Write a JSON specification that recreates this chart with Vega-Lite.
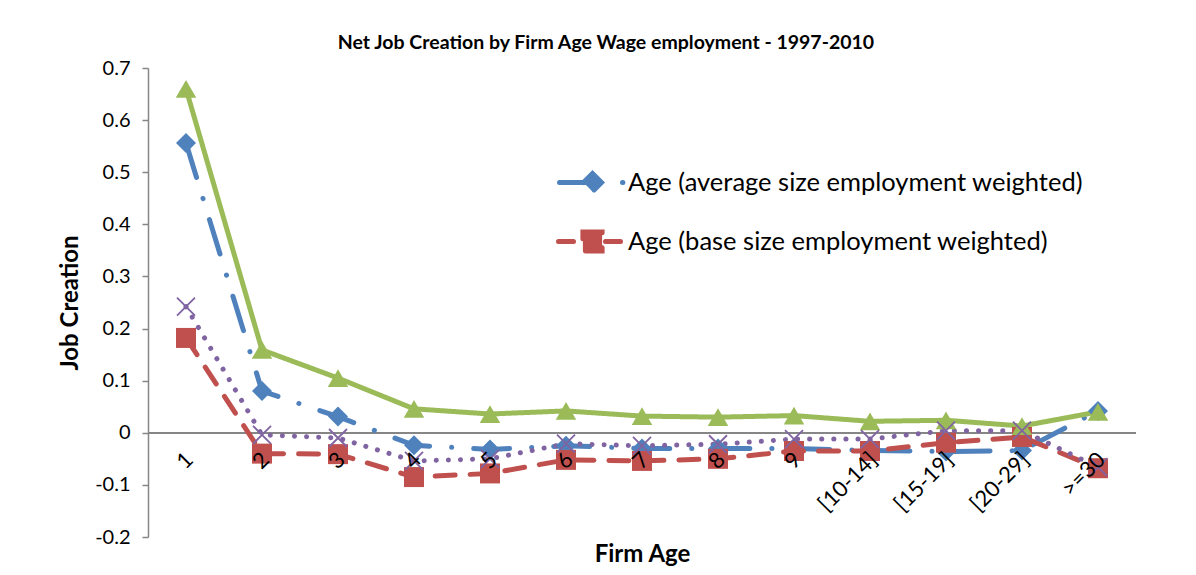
{
  "$schema": "https://vega.github.io/schema/vega-lite/v6.json",
  "width": 988,
  "height": 469,
  "autosize": "none",
  "padding": {"left": 148, "top": 68, "right": 60, "bottom": 38},
  "background": "white",
  "config": {
    "font": "Lato",
    "view": {"stroke": null},
    "axis": {"grid": false, "labelColor": "black", "titleColor": "black", "labelFont": "Lato", "titleFont": "Lato"}
  },
  "title": {
    "text": "Net Job Creation by Firm Age Wage employment - 1997-2010",
    "fontSize": 19.5,
    "fontWeight": "bold",
    "font": "Lato",
    "color": "black",
    "anchor": "middle",
    "dx": -36,
    "offset": 5
  },
  "data": {
    "values": [
      {"age": "1", "series": "Age (average size employment weighted)", "value": 0.556},
      {"age": "2", "series": "Age (average size employment weighted)", "value": 0.08},
      {"age": "3", "series": "Age (average size employment weighted)", "value": 0.031},
      {"age": "4", "series": "Age (average size employment weighted)", "value": -0.024},
      {"age": "5", "series": "Age (average size employment weighted)", "value": -0.032},
      {"age": "6", "series": "Age (average size employment weighted)", "value": -0.025},
      {"age": "7", "series": "Age (average size employment weighted)", "value": -0.03},
      {"age": "8", "series": "Age (average size employment weighted)", "value": -0.03},
      {"age": "9", "series": "Age (average size employment weighted)", "value": -0.03},
      {"age": "[10-14]", "series": "Age (average size employment weighted)", "value": -0.034},
      {"age": "[15-19]", "series": "Age (average size employment weighted)", "value": -0.036},
      {"age": "[20-29]", "series": "Age (average size employment weighted)", "value": -0.034},
      {"age": ">=30", "series": "Age (average size employment weighted)", "value": 0.042},
      {"age": "1", "series": "Age (base size employment weighted)", "value": 0.182},
      {"age": "2", "series": "Age (base size employment weighted)", "value": -0.04},
      {"age": "3", "series": "Age (base size employment weighted)", "value": -0.041},
      {"age": "4", "series": "Age (base size employment weighted)", "value": -0.085},
      {"age": "5", "series": "Age (base size employment weighted)", "value": -0.078},
      {"age": "6", "series": "Age (base size employment weighted)", "value": -0.052},
      {"age": "7", "series": "Age (base size employment weighted)", "value": -0.054},
      {"age": "8", "series": "Age (base size employment weighted)", "value": -0.05},
      {"age": "9", "series": "Age (base size employment weighted)", "value": -0.035},
      {"age": "[10-14]", "series": "Age (base size employment weighted)", "value": -0.035},
      {"age": "[15-19]", "series": "Age (base size employment weighted)", "value": -0.019},
      {"age": "[20-29]", "series": "Age (base size employment weighted)", "value": -0.008},
      {"age": ">=30", "series": "Age (base size employment weighted)", "value": -0.068},
      {"age": "1", "series": "Age (firm count)", "value": 0.66},
      {"age": "2", "series": "Age (firm count)", "value": 0.159},
      {"age": "3", "series": "Age (firm count)", "value": 0.105},
      {"age": "4", "series": "Age (firm count)", "value": 0.046},
      {"age": "5", "series": "Age (firm count)", "value": 0.036},
      {"age": "6", "series": "Age (firm count)", "value": 0.042},
      {"age": "7", "series": "Age (firm count)", "value": 0.032},
      {"age": "8", "series": "Age (firm count)", "value": 0.03},
      {"age": "9", "series": "Age (firm count)", "value": 0.033},
      {"age": "[10-14]", "series": "Age (firm count)", "value": 0.022},
      {"age": "[15-19]", "series": "Age (firm count)", "value": 0.024},
      {"age": "[20-29]", "series": "Age (firm count)", "value": 0.013},
      {"age": ">=30", "series": "Age (firm count)", "value": 0.04},
      {"age": "1", "series": "Age (unweighted)", "value": 0.242},
      {"age": "2", "series": "Age (unweighted)", "value": -0.004},
      {"age": "3", "series": "Age (unweighted)", "value": -0.01},
      {"age": "4", "series": "Age (unweighted)", "value": -0.054},
      {"age": "5", "series": "Age (unweighted)", "value": -0.05},
      {"age": "6", "series": "Age (unweighted)", "value": -0.021},
      {"age": "7", "series": "Age (unweighted)", "value": -0.025},
      {"age": "8", "series": "Age (unweighted)", "value": -0.022},
      {"age": "9", "series": "Age (unweighted)", "value": -0.012},
      {"age": "[10-14]", "series": "Age (unweighted)", "value": -0.012},
      {"age": "[15-19]", "series": "Age (unweighted)", "value": 0.004},
      {"age": "[20-29]", "series": "Age (unweighted)", "value": 0.004},
      {"age": ">=30", "series": "Age (unweighted)", "value": -0.066}
    ]
  },
  "encoding": {
    "x": {
      "field": "age",
      "type": "ordinal",
      "sort": ["1", "2", "3", "4", "5", "6", "7", "8", "9", "[10-14]", "[15-19]", "[20-29]", ">=30"],
      "scale": {"padding": 0.5},
      "axis": {
        "title": "Firm Age",
        "titleFontSize": 24,
        "titleFontWeight": "bold",
        "titleY": 122,
        "titleBaseline": "middle",
        "offset": -104.2,
        "domain": false,
        "ticks": false,
        "labelAngle": -45,
        "labelFontSize": 22,
        "labelPadding": 16,
        "labelOffset": -4,
        "labelOverlap": false,
        "labelLimit": 400,
        "labelBound": false,
        "zindex": 2
      }
    },
    "y": {
      "field": "value",
      "type": "quantitative",
      "scale": {"domain": [-0.2, 0.7], "nice": false, "zero": false},
      "axis": {
        "title": "Job Creation",
        "titleFontSize": 24,
        "titleFontWeight": "bold",
        "titlePadding": 12,
        "values": [-0.2, -0.1, 0, 0.1, 0.2, 0.3, 0.4, 0.5, 0.6, 0.7],
        "labelExpr": "replace(format(datum.value, '~g'), '\u2212', '-')",
        "labelFontSize": 20,
        "labelPadding": 12,
        "domainColor": "#868686",
        "domainWidth": 1.5,
        "tickColor": "#868686",
        "tickWidth": 1.5,
        "tickSize": 6
      }
    }
  },
  "layer": [
    {
      "mark": {"type": "rule", "color": "#868686", "strokeWidth": 1.5},
      "encoding": {"y": {"datum": 0}, "x": null}
    },
    {
      "mark": {"type": "line", "strokeWidth": 5, "strokeCap": "round", "strokeJoin": "round"},
      "encoding": {
        "color": {
          "field": "series",
          "type": "nominal",
          "scale": {
            "domain": ["Age (average size employment weighted)", "Age (base size employment weighted)", "Age (firm count)", "Age (unweighted)"],
            "range": ["#4F81BD", "#C0504D", "#9BBB59", "#8064A2"]
          },
          "legend": {
            "title": null,
            "orient": "none",
            "legendX": 422,
            "legendY": 92,
            "padding": 0,
            "values": ["Age (average size employment weighted)", "Age (base size employment weighted)"],
            "symbolSize": 1600,
            "symbolStrokeWidth": 5,
            "labelFontSize": 25.5,
            "labelFont": "Lato",
            "labelColor": "black",
            "labelOffset": 13,
            "labelLimit": 700,
            "rowPadding": 17,
            "encode": {
              "symbols": {
                "update": {
                  "shape": {"signal": "datum.value === 'Age (average size employment weighted)' ? 'M-1.65,0L0.6,0M-0.45,0L0,-0.45L0.45,0L0,0.45ZM1.5,0L1.52,0' : 'M-1.7,0L-0.95,0M-0.48,-0.48L0.48,-0.48L0.48,0.48L-0.48,0.48ZM0.65,0L1.4,0'"},
                  "fill": {"signal": "datum.value === 'Age (average size employment weighted)' ? '#4F81BD' : '#C0504D'"},
                  "stroke": {"signal": "datum.value === 'Age (average size employment weighted)' ? '#4F81BD' : '#C0504D'"},
                  "strokeWidth": {"value": 5},
                  "strokeCap": {"value": "round"},
                  "strokeDash": {"value": []},
                  "size": {"value": 1600},
                  "opacity": {"value": 1}
                }
              }
            }
          }
        },
        "strokeDash": {
          "field": "series",
          "type": "nominal",
          "scale": {
            "domain": ["Age (average size employment weighted)", "Age (base size employment weighted)", "Age (firm count)", "Age (unweighted)"],
            "range": [[36, 22, 0.1, 22], [20, 15], [1, 0], [0.1, 12]]
          },
          "legend": null
        }
      }
    },
    {
      "transform": [{"filter": "datum.series === 'Age (average size employment weighted)'"}],
      "mark": {"type": "point", "shape": "diamond", "filled": true, "size": 400, "color": "#4F81BD", "opacity": 1},
      "encoding": {}
    },
    {
      "transform": [{"filter": "datum.series === 'Age (base size employment weighted)'"}],
      "mark": {"type": "point", "shape": "square", "filled": true, "size": 400, "color": "#C0504D", "opacity": 1},
      "encoding": {}
    },
    {
      "transform": [{"filter": "datum.series === 'Age (firm count)'"}],
      "mark": {"type": "point", "shape": "triangle-up", "filled": true, "size": 420, "color": "#9BBB59", "opacity": 1},
      "encoding": {}
    },
    {
      "transform": [{"filter": "datum.series === 'Age (unweighted)'"}],
      "mark": {"type": "point", "shape": "M-0.9,-0.9L0.9,0.9M0.9,-0.9L-0.9,0.9", "filled": false, "size": 400, "stroke": "#8064A2", "strokeWidth": 1.8, "opacity": 1},
      "encoding": {}
    }
  ]
}
